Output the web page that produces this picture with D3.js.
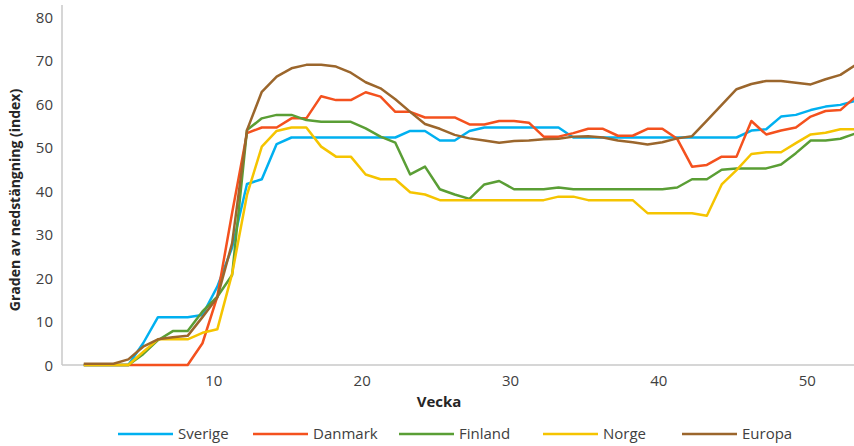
<html>
<head>
    <script src="https://cdn.jsdelivr.net/npm/d3@7"></script>
    <style type="text/css">
        body { margin: 0; background: #ffffff; }
        text { font-family: "Open Sans", sans-serif; fill: #404040; }
        .axis path.domain { stroke: #c8c8c8; stroke-width: 1.5; }
        .axis line { display: none; }
        .axis text { font-size: 15px; }
        .title { font-weight: bold; font-size: 14px; fill: #262626; }
        path.series { fill: none; stroke-width: 2.5; stroke-linejoin: round; }
        .legend text { font-size: 15px; }
    </style>
</head>
<body>
    <svg id="plot"></svg>
    <script>
        var SizeX = 854, SizeY = 446;
        var Plot = { left: 62, right: 854, top: 5, bottom: 365 };

        var weeks = d3.range(1, 54);
        var names = ["Sverige", "Danmark", "Finland", "Norge", "Europa"];
        var colors = ["#00b0f0", "#f4511e", "#5a9e35", "#f5c400", "#9b662c"];
        var yTicks = [0, 10, 20, 30, 40, 50, 60, 70, 80];
        var xTicks = [10, 20, 30, 40, 50];

        var sverige = [0, 0, 0, 0, 5, 11, 11, 11, 11.5, 18,
            27, 41.6, 42.7, 50.8, 52.3, 52.3, 52.3, 52.3, 52.3, 52.3,
            52.3, 52.3, 53.8, 53.8, 51.6, 51.6, 53.8, 54.6, 54.6, 54.6,
            54.6, 54.6, 54.6, 52.3, 52.3, 52.3, 52.3, 52.3, 52.3, 52.3,
            52.3, 52.3, 52.3, 52.3, 52.3, 53.9, 54.2, 57.1, 57.5, 58.6,
            59.4, 59.8, 60.7];
        var danmark = [0, 0, 0, 0, 0, 0, 0, 0, 5, 15.7,
            35, 53.3, 54.6, 54.6, 56.7, 56.7, 61.8, 60.9, 60.9, 62.7,
            61.7, 58.2, 58.2, 56.9, 56.9, 56.9, 55.3, 55.3, 56.1, 56.1,
            55.7, 52.5, 52.5, 53.3, 54.3, 54.3, 52.7, 52.7, 54.3, 54.3,
            52, 45.6, 46, 47.9, 47.9, 56.1, 53, 53.9, 54.6, 57.1,
            58.4, 58.6, 61.6];
        var finland = [0, 0, 0, 0, 2.5, 5.7, 7.8, 7.8, 12.3, 15.7,
            20.7, 54, 56.7, 57.5, 57.5, 56.3, 55.9, 55.9, 55.9, 54.4,
            52.5, 51.1, 43.8, 45.6, 40.4, 39.2, 38.2, 41.5, 42.3, 40.4,
            40.4, 40.4, 40.8, 40.4, 40.4, 40.4, 40.4, 40.4, 40.4, 40.4,
            40.8, 42.7, 42.7, 44.9, 45.2, 45.2, 45.2, 46.1, 48.7, 51.6,
            51.6, 52, 53.2];
        var norge = [0, 0, 0, 0, 3, 5.9, 6, 5.9, 7.4, 8.2,
            21, 39.1, 50.2, 53.8, 54.6, 54.6, 50.2, 47.9, 47.9, 43.8,
            42.7, 42.7, 39.7, 39.2, 37.9, 37.9, 37.9, 37.9, 37.9, 37.9,
            37.9, 37.9, 38.7, 38.7, 37.9, 37.9, 37.9, 37.9, 34.9, 34.9,
            34.9, 34.9, 34.3, 41.5, 44.8, 48.5, 48.9, 48.9, 51, 53,
            53.4, 54.2, 54.2];
        var europa = [0.3, 0.3, 0.3, 1.3, 4.2, 5.9, 6.4, 6.7, 11, 15.5,
            28, 54, 62.8, 66.3, 68.2, 69, 69, 68.6, 67.2, 65,
            63.6, 61.1, 58.2, 55.4, 54.3, 52.9, 52.1, 51.6, 51.1, 51.5,
            51.6, 51.9, 52, 52.5, 52.6, 52.3, 51.6, 51.2, 50.7, 51.2,
            52.1, 52.6, 56.2, 59.8, 63.4, 64.6, 65.3, 65.3, 64.9, 64.5,
            65.7, 66.7, 68.9];
        var series = [sverige, danmark, finland, norge, europa];

        var legendX = [118, 253, 399, 543, 682];

        var svg = d3.select("#plot")
            .attr("width", SizeX)
            .attr("height", SizeY);

        var x_scale = d3.scaleLinear()
            .domain([0, 54])
            .range([68.96, 68.96 + 54 * 14.835]);
        var y_scale = d3.scaleLinear()
            .domain([0, 80])
            .range([Plot.bottom, 17]);

        svg.append("clipPath").attr("id", "clip")
            .append("rect")
                .attr("x", Plot.left).attr("y", 0)
                .attr("width", Plot.right - Plot.left)
                .attr("height", Plot.bottom + 2);

        // y axis: line + labels
        var y_axis = d3.axisLeft(y_scale).tickValues(yTicks).tickSize(0).tickPadding(9);
        var y_g = svg.append("g").attr("class", "axis")
            .attr("transform", "translate(" + Plot.left + " 0)")
            .call(y_axis);
        y_g.select("path.domain").attr("d", "M0," + Plot.top + "V" + Plot.bottom);
        y_g.selectAll("text").attr("dy", "0.35em");

        // x axis
        var x_axis = d3.axisBottom(x_scale).tickValues(xTicks).tickSize(0).tickPadding(10);
        var x_g = svg.append("g").attr("class", "axis")
            .attr("transform", "translate(0 " + Plot.bottom + ")")
            .call(x_axis);
        x_g.select("path.domain").attr("d", "M" + Plot.left + ",0H" + Plot.right);
        x_g.selectAll("text").attr("dx", -4);

        svg.append("text").attr("class", "title")
            .attr("text-anchor", "middle")
            .attr("transform", "translate(20 200) rotate(-90)")
            .text("Graden av nedstängning (index)");

        svg.append("text").attr("class", "title")
            .attr("text-anchor", "middle")
            .attr("x", 439).attr("y", 407)
            .style("font-size", "15px")
            .text("Vecka");

        var line = d3.line()
            .x((d, i) => x_scale(weeks[i]))
            .y((d) => y_scale(d));

        svg.append("g").attr("clip-path", "url(#clip)")
            .selectAll("path.series")
            .data(series)
            .enter()
                .append("path").classed("series", true)
                    .attr("stroke", (d, i) => colors[i])
                    .attr("d", line);

        var legend = svg.append("g").attr("class", "legend")
            .selectAll("g")
            .data(names)
            .enter()
                .append("g")
                    .attr("transform", (d, i) => "translate(" + legendX[i] + " 434)");
        legend.append("line")
            .attr("x1", 0).attr("x2", 55)
            .attr("stroke", (d, i) => colors[i])
            .attr("stroke-width", 2.5);
        legend.append("text")
            .attr("x", 60).attr("dy", "0.35em")
            .text((d) => d);
    </script>
</body>
</html>
